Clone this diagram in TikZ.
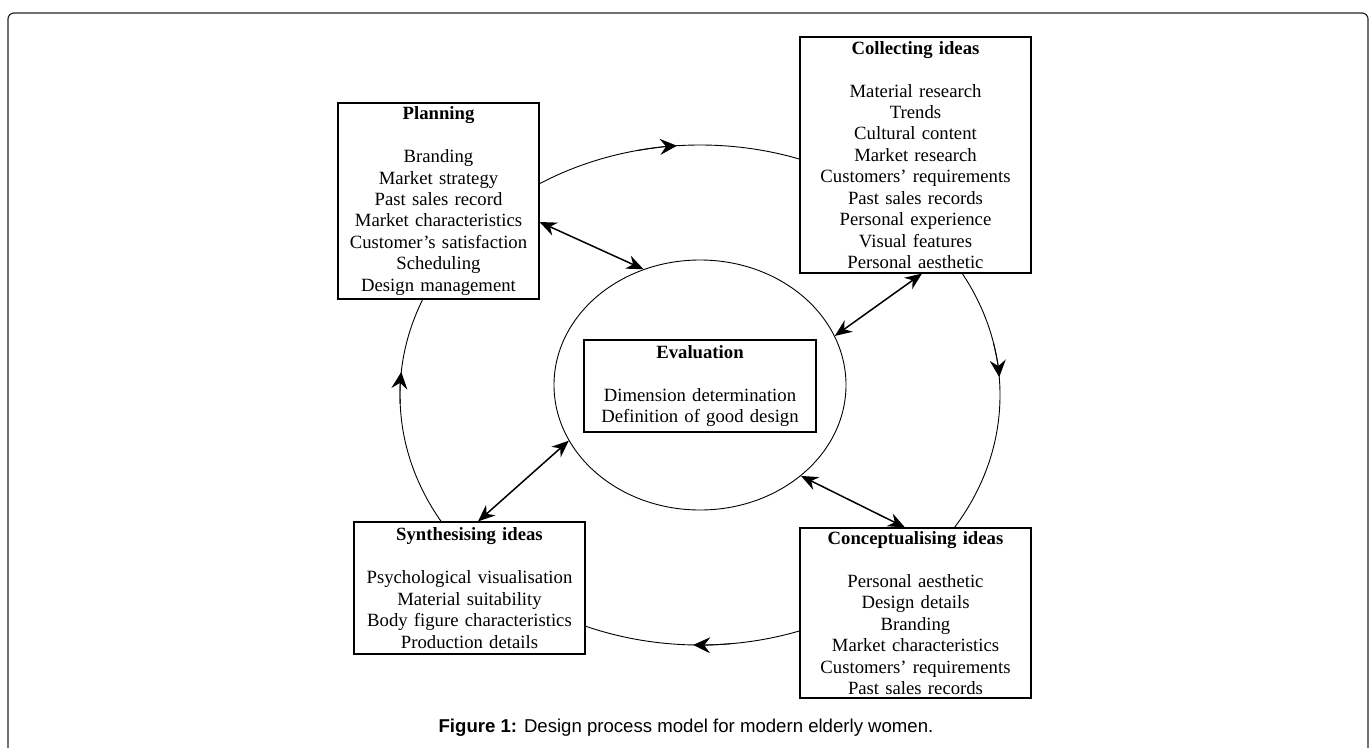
\documentclass[tikz,border=0pt]{standalone}
\usepackage{fontspec}
\setmainfont{Liberation Serif}
\newfontfamily\capfont{Liberation Sans}
\usetikzlibrary{arrows.meta,shapes.geometric,calc}
\tikzset{
  stagebox/.style={draw, line width=1.1pt, fill=white, inner sep=0pt, align=center,
    font=\fontsize{18.7}{21.45}\selectfont},
  loopline/.style={line width=0.9pt},
  looptip/.style={loopline, -{Stealth[length=17pt,width=16pt,inset=6pt]}},
  dbl/.style={line width=1.5pt, {Stealth[length=17pt,width=14pt,inset=5.5pt]}-{Stealth[length=17pt,width=14pt,inset=5.5pt]}},
  framestyle/.style={line width=1.2pt, draw=black!85, rounded corners=6pt}
}
\begin{document}
\begin{tikzpicture}[x=1pt,y=-1pt]
\useasboundingbox (0,0) rectangle (1372,747);
\fill[white] (0,0) rectangle (1372,747);
% frame
\draw[framestyle] (8,749) -- (8,13) -- (1368,13) -- (1368,749);
% outer cycle and inner evaluation ellipse
\node[draw, ellipse, loopline, minimum width=600pt, minimum height=500pt, inner sep=0pt] (cycle) at (700,395) {};
\node[draw, ellipse, loopline, minimum width=292pt, minimum height=250pt, inner sep=0pt] (evalring) at (700,385) {};
% stage boxes
\node[stagebox, minimum width=201pt, text width=201pt, minimum height=196pt] (plan) at (438.5,201)
  {\textbf{Planning}\\ \mbox{}\\ Branding\\ Market strategy\\ Past sales record\\ Market characteristics\\ Customer’s satisfaction\\ Scheduling\\ Design management};
\node[stagebox, minimum width=231pt, text width=231pt, minimum height=236pt] (coll) at (915.5,155)
  {\textbf{Collecting ideas}\\ \mbox{}\\ Material research\\ Trends\\ Cultural content\\ Market research\\ Customers’ requirements\\ Past sales records\\ Personal experience\\ Visual features\\ Personal aesthetic};
\node[stagebox, minimum width=232pt, text width=232pt, minimum height=92pt] (eval) at (700,386)
  {\textbf{Evaluation}\\ \mbox{}\\ Dimension determination\\ Definition of good design};
\node[stagebox, minimum width=231pt, text width=231pt, minimum height=170pt] (conc) at (915.5,613)
  {\textbf{Conceptualising ideas}\\ \mbox{}\\ Personal aesthetic\\ Design details\\ Branding\\ Market characteristics\\ Customers’ requirements\\ Past sales records};
\node[stagebox, minimum width=231pt, text width=231pt, minimum height=132pt] (synth) at (469.5,588)
  {\textbf{Synthesising ideas}\\ \mbox{}\\ Psychological visualisation\\ Material suitability\\ Body figure characteristics\\ Production details};
% direction arrows on the outer cycle
\draw[looptip] (cycle.center) ++(258:300 and 250) arc[start angle=258, end angle=265.6, x radius=300, y radius=250];
\draw[looptip] (cycle.center) ++(-12:300 and 250) arc[start angle=-12, end angle=-4.1, x radius=300, y radius=250];
\draw[looptip] (cycle.center) ++(84:300 and 250) arc[start angle=84, end angle=91.3, x radius=300, y radius=250];
\draw[looptip] (cycle.center) ++(178:300 and 250) arc[start angle=178, end angle=185.3, x radius=300, y radius=250];
% two-way links to evaluation
\draw[dbl] ($(plan.east)+(0,21)$) -- (evalring.116);
\draw[dbl] ($(coll.south)+(6.5,0)$) -- (evalring.20);
\draw[dbl] ($(synth.north)+(8.5,0)$) -- (evalring.203.7);
\draw[dbl] ($(conc.north)+(-10.5,0)$) -- (evalring.318.6);
% caption
\node[font=\capfont\fontsize{18.6}{21}\selectfont] (caption) at (686,728)
  {\textbf{Figure 1:} Design process model for modern elderly women.};
\end{tikzpicture}
\end{document}
